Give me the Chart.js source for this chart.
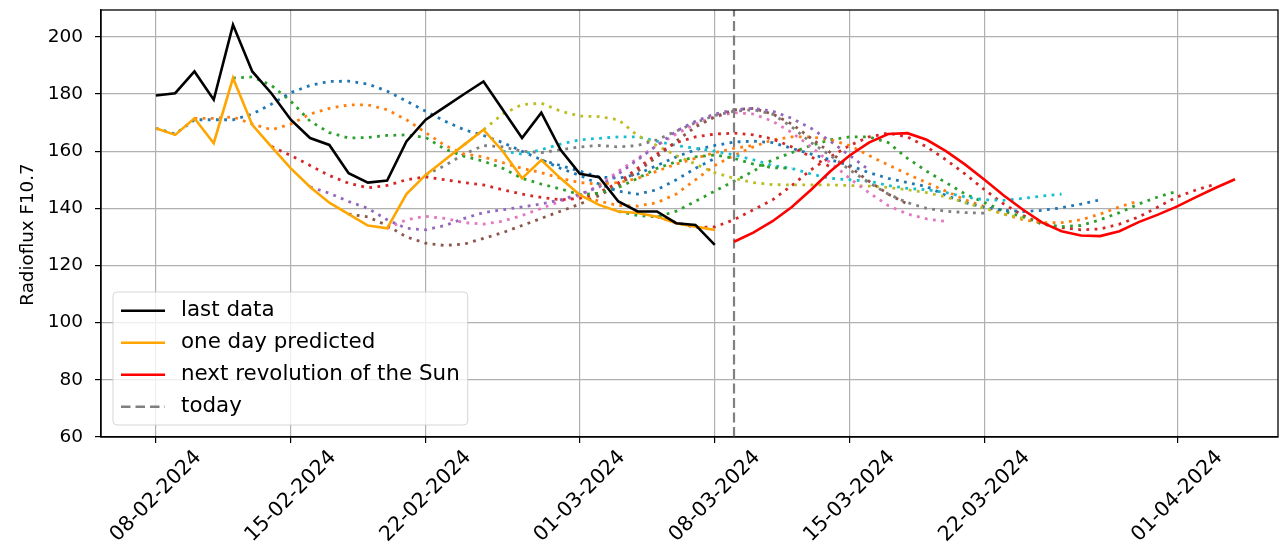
<!DOCTYPE html>
<html>
<head>
<meta charset="utf-8">
<title>Radioflux F10.7</title>
<script src="https://cdn.jsdelivr.net/npm/chart.js@4.4.1/dist/chart.umd.min.js"></script>
<style>
    html, body { margin: 0; padding: 0; background: #fff; }
</style>
</head>
<body>
<canvas id="fluxChart" width="1280" height="552"></canvas>
<script>
// x values are days counted from 08-02-2024
const tickDays = [0, 7, 14, 22, 29, 36, 43, 53];
const tickLabels = ["08-02-2024", "15-02-2024", "22-02-2024", "01-03-2024",
    "08-03-2024", "15-03-2024", "22-03-2024", "01-04-2024"];
const todayDay = 30;

const lastData = [179.5, 180.3, 187.9, 178, 204.2, 187.9, 180.2, 171, 164.6, 162.2,
    152.3, 149, 149.7, 163.4, 171, 175.5, 180, 184.4, 174.5, 164.6,
    173.5, 160.5, 152.1, 150.9, 142.4, 138.9, 138.9, 134.8, 134.2, 127.2];

const oneDayPredicted = [168, 165.7, 171.5, 162.8, 185.6, 169.2, 161.5, 154, 147.5, 142,
    138, 134, 133, 145, 151.7, 157, 162.3, 167.5, 160, 150.5,
    156.9, 150.5, 144.7, 141.2, 138.9, 138.4, 137.1, 134.8, 133.6, 132.4];

// starts on todayDay
const nextRevolution = [128.3, 131.5, 135.5, 140.5, 146.5, 153, 158.5, 163, 166, 166.3,
    164, 160, 155.3, 150, 144.5, 139.5, 135, 132, 130.5, 130.3,
    132, 135.2, 137.8, 140.7, 144, 147.2, 150.2];

// older 30-day forecasts, one every second day
const forecastStartDays = [0, 2, 4, 6, 8, 10, 12, 14, 16, 18, 20, 22, 24, 26];

const forecast0 = [168, 166, 171, 171, 171, 173, 176.5, 180.5, 183, 184.4,
    184.5, 183.5, 181, 177.5, 174, 170.5, 167.5, 165.5, 163, 160,
    157, 154, 151.5, 148.5, 146, 145, 146.5, 150, 154, 157.5];
const forecast1 = [171.5, 171.5, 172, 169.5, 167.5, 169.5, 173, 175, 176.2, 176.2,
    174.5, 171, 166.5, 162, 159, 158, 156, 154, 152.5, 150.5,
    149, 148.5, 149, 150.5, 153, 155.5, 157.5, 159.5, 161, 162];
const forecast2 = [185.6, 186, 183, 177.5, 170.5, 166.5, 164.6, 164.8, 165.5, 165.7,
    164.8, 160.7, 158.2, 156.5, 154, 150.5, 148.5, 146.8, 144.8, 145.3,
    147.3, 150.5, 154, 156.3, 158, 158.7, 157.5, 155.5, 154.2, 154];
const forecast3 = [161.6, 158.5, 155, 151.5, 148.8, 147.2, 148, 150, 151, 150,
    149, 148.2, 146.5, 145, 143.8, 143, 143.5, 145.5, 149, 154,
    159, 163, 165, 166, 166.3, 165.7, 164.3, 161.5, 158, 154.5];
const forecast4 = [147.5, 145.3, 142.4, 140, 136, 133, 132.5, 134, 136.5, 138.5,
    139.5, 140.5, 141.5, 143, 145, 147.5, 152, 157, 162, 167,
    170.5, 173, 174.5, 175, 174, 171.5, 168, 163.5, 158.5, 153.5];
const forecast5 = [138, 137, 134, 130, 127.8, 127, 127.5, 129.5, 131.5, 134,
    136.5, 139, 141.5, 144.5, 148, 153, 158, 163.5, 168.5, 172,
    174.5, 175, 173, 169.5, 164.5, 159.5, 154.5, 149.5, 145, 141.5];
const forecast6 = [133, 136, 137.2, 136.5, 135, 134.5, 135.5, 137.5, 140, 142.5,
    144.5, 148, 153, 157.5, 162, 166, 169.5, 172, 173.5, 173,
    170.5, 166.5, 161.5, 156, 150.5, 145.5, 141, 138, 136.3, 135.4];
const forecast7 = [151.7, 155, 159, 162, 161.5, 160, 159.5, 160.5, 161.5, 162,
    161.5, 162, 164, 167, 170, 172.5, 174, 174.5, 173, 168.5,
    163, 158.5, 153.5, 149, 145, 142, 140, 139, 138.5, 138.3];
const forecast8 = [162.3, 167.5, 173, 176.3, 176.8, 174, 172.3, 172.1, 171, 165.5,
    162, 158.5, 155.5, 152.5, 150.5, 149, 148.3, 148.2, 148.2, 148.2,
    148, 147.8, 147.3, 146.5, 145.5, 144, 142, 140, 138, 136.5];
const forecast9 = [160, 159, 160.5, 162.5, 164, 164.5, 165, 165, 163.5, 162,
    161, 160, 158.7, 157, 155, 154, 152, 150.5, 150, 149.5,
    148, 147, 146.5, 145.5, 144, 143, 142.8, 143.5, 144.3, 145];
const forecast10 = [156.9, 155, 153, 151, 150.5, 152, 155, 158, 160.5, 162,
    163.2, 163.5, 163, 161, 159, 157, 155, 152.5, 150.5, 149,
    147.6, 144.5, 142, 140.3, 139.3, 138.9, 139.3, 140.2, 141.5, 143];
const forecast11 = [144.7, 142.5, 141, 140.8, 142, 145, 150, 155, 158.5, 161.5,
    164, 165, 165, 164, 162, 158.5, 155.2, 152, 149, 146,
    143, 140.6, 138, 136, 135, 135, 136, 138, 140.5, 142.6];
const forecast12 = [138.9, 137.5, 137, 139, 142.5, 146, 149.5, 153, 157, 159.5,
    162, 164, 165, 165, 163, 157.5, 153, 149, 145, 142,
    139, 137, 134.5, 133.6, 134, 136, 138.5, 141.5, 144, 146];
const forecast13 = [137.1, 135, 133.3, 133.5, 136, 139.5, 143, 148, 153.5, 158,
    162, 165, 166.3, 165, 161.5, 157, 152, 146.5, 141.5, 137.5,
    134.5, 133.3, 132.5, 132.8, 134.5, 137, 140.5, 144, 146.5, 148.5];

const forecasts = [forecast0, forecast1, forecast2, forecast3, forecast4, forecast5, forecast6,
    forecast7, forecast8, forecast9, forecast10, forecast11, forecast12, forecast13];

const tab10 = ["#1f77b4", "#ff7f0e", "#2ca02c", "#d62728", "#9467bd",
    "#8c564b", "#e377c2", "#7f7f7f", "#bcbd22", "#17becf"];

const yMin = 60;
const yMax = 209.4;
const yTitle = "Radioflux F10.7";

function toPoints(values, firstDay) {
    return values.map((v, i) => ({ x: firstDay + i, y: v }));
}

const legendItems = [
    { text: "last data", color: "#000000", dash: [] },
    { text: "one day predicted", color: "#ffa500", dash: [] },
    { text: "next revolution of the Sun", color: "#ff0000", dash: [] },
    { text: "today", color: "#808080", dash: [9.5, 5] }
];

const fontFamily = "'DejaVu Sans', sans-serif";

// frame, axis title, rotated date labels and the legend box
const extras = {
    id: "extras",
    afterDatasetsDraw(chart) {
        const { ctx, chartArea: a } = chart;
        ctx.save();
        ctx.strokeStyle = "#000";
        ctx.lineWidth = 1.3;
        ctx.strokeRect(a.left, a.top, a.right - a.left, a.bottom - a.top);
        ctx.restore();
    },
    afterDraw(chart) {
        const { ctx, chartArea: a } = chart;
        const xScale = chart.scales.x;

        ctx.save();
        ctx.fillStyle = "#000";
        ctx.font = "18.3px " + fontFamily;
        ctx.translate(28, (a.top + a.bottom) / 2 + 11);
        ctx.rotate(-Math.PI / 2);
        ctx.textAlign = "center";
        ctx.textBaseline = "middle";
        ctx.fillText(yTitle, 0, 0);
        ctx.restore();

        ctx.save();
        ctx.fillStyle = "#000";
        const labelSize = 20.5;
        ctx.font = labelSize + "px " + fontFamily;
        const top = a.bottom + 10;
        tickDays.forEach((d, i) => {
            const px = xScale.getPixelForValue(d);
            const w = ctx.measureText(tickLabels[i]).width;
            ctx.save();
            ctx.translate(px + 0.354 * w, top + 0.354 * labelSize);
            ctx.rotate(-Math.PI / 4);
            ctx.textAlign = "right";
            ctx.textBaseline = "middle";
            ctx.fillText(tickLabels[i], 0, 0);
            ctx.restore();
        });
        ctx.restore();

        // legend, lower left
        ctx.save();
        ctx.font = "21.4px " + fontFamily;
        const textW = Math.max(...legendItems.map(it => ctx.measureText(it.text).width));
        const boxX = a.left + 12;
        const boxW = 8 + 44 + 16 + textW + 8;
        const boxH = 133;
        const boxY = a.bottom - 12 - boxH;
        ctx.beginPath();
        ctx.roundRect(boxX, boxY, boxW, boxH, 4);
        ctx.fillStyle = "rgba(255,255,255,0.8)";
        ctx.fill();
        ctx.strokeStyle = "rgba(204,204,204,0.8)";
        ctx.lineWidth = 1;
        ctx.stroke();
        legendItems.forEach((it, i) => {
            const y = boxY + 18.7 + i * 32;
            ctx.beginPath();
            ctx.setLineDash(it.dash);
            ctx.strokeStyle = it.color;
            ctx.lineWidth = 2.6;
            ctx.moveTo(boxX + 8, y);
            ctx.lineTo(boxX + 52, y);
            ctx.stroke();
            ctx.setLineDash([]);
            ctx.fillStyle = "#000";
            ctx.textAlign = "left";
            ctx.textBaseline = "middle";
            ctx.fillText(it.text, boxX + 68, y);
        });
        ctx.restore();
    }
};

const datasets = [
    {
        label: "last data",
        data: toPoints(lastData, 0),
        borderColor: "#000000",
        borderWidth: 2.6
    },
    {
        label: "one day predicted",
        data: toPoints(oneDayPredicted, 0),
        borderColor: "#ffa500",
        borderWidth: 2.6
    },
    {
        label: "next revolution of the Sun",
        data: toPoints(nextRevolution, todayDay),
        borderColor: "#ff0000",
        borderWidth: 2.6
    },
    {
        label: "today",
        data: [{ x: todayDay, y: yMin }, { x: todayDay, y: yMax }],
        borderColor: "#808080",
        borderDash: [10, 4.5],
        borderWidth: 2.2
    }
];

forecasts.forEach((values, k) => {
    datasets.push({
        label: "forecast " + k,
        data: toPoints(values, forecastStartDays[k]),
        borderColor: tab10[k % 10],
        borderDash: [2.8, 5.4],
        borderWidth: 2.8
    });
});

const canvas = document.getElementById("fluxChart");

new Chart(canvas, {

    type: "line",

    data: { datasets },

    options: {

        responsive: false,
        animation: false,
        events: [],

        layout: {
            padding: { top: 10, right: 2, left: 0, bottom: 0 }
        },

        elements: {
            point: { radius: 0 },
            line: { tension: 0, fill: false, borderCapStyle: "butt" }
        },

        plugins: {
            legend: { display: false },
            tooltip: { enabled: false }
        },

        scales: {

            x: {
                type: "linear",
                min: -2.85,
                max: 58.23,
                afterBuildTicks(scale) {
                    scale.ticks = tickDays.map(d => ({ value: d }));
                },
                afterFit(scale) {
                    scale.height = 115;
                    scale.paddingLeft = 0;
                    scale.paddingRight = 0;
                },
                ticks: { display: false },
                grid: {
                    color: "#b0b0b0",
                    lineWidth: 1.2,
                    tickColor: "#000",
                    tickLength: 6,
                    tickWidth: 1.2
                },
                border: { color: "#000", width: 1.3 }
            },

            y: {
                min: yMin,
                max: yMax,
                afterFit(scale) {
                    scale.width = 101;
                    scale.paddingTop = 0;
                    scale.paddingBottom = 0;
                },
                ticks: {
                    stepSize: 20,
                    includeBounds: false,
                    color: "#000",
                    padding: 12,
                    font: { family: fontFamily, size: 18.5 }
                },
                grid: {
                    color: "#b0b0b0",
                    lineWidth: 1.2,
                    tickColor: "#000",
                    tickLength: 6,
                    tickWidth: 1.2
                },
                border: { color: "#000", width: 1.3 }
            }
        }
    },

    plugins: [extras]

});
</script>
</body>
</html>
